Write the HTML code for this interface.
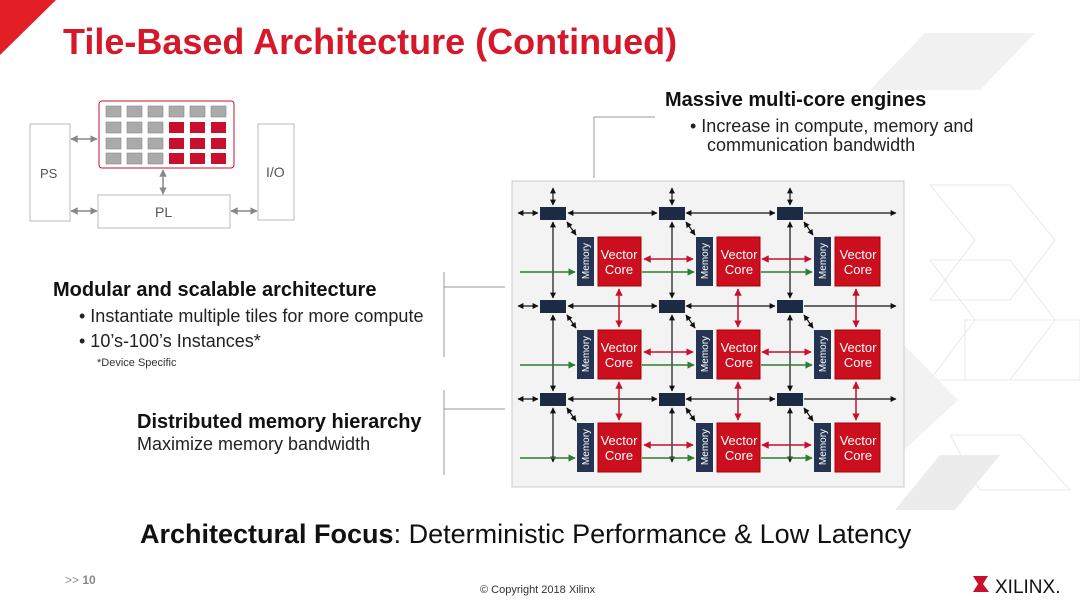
<!DOCTYPE html>
<html><head><meta charset="utf-8"><style>
html,body{margin:0;padding:0;background:#fff}
svg{display:block;font-family:"Liberation Sans",Arial,sans-serif}
</style></head><body>
<svg width="1080" height="608" viewBox="0 0 1080 608" xmlns="http://www.w3.org/2000/svg">
<defs>
<marker id="ab" viewBox="0 0 10 10" refX="9" refY="5" markerWidth="5" markerHeight="5" orient="auto-start-reverse"><path d="M0,0L10,5L0,10z" fill="#111"/></marker>
<marker id="ar" viewBox="0 0 10 10" refX="9" refY="5" markerWidth="5" markerHeight="5" orient="auto-start-reverse"><path d="M0,0L10,5L0,10z" fill="#c8102e"/></marker>
<marker id="ag" viewBox="0 0 10 10" refX="9" refY="5" markerWidth="5" markerHeight="5" orient="auto-start-reverse"><path d="M0,0L10,5L0,10z" fill="#2e7d32"/></marker>
<marker id="gy" viewBox="0 0 10 10" refX="9" refY="5" markerWidth="5" markerHeight="5" orient="auto-start-reverse"><path d="M0,0L10,5L0,10z" fill="#888"/></marker>
</defs>
<!-- background chevrons -->
<g fill="none" stroke="#e9e9e9" stroke-width="1">
<polygon points="925,33 1035,33 980,90 870,90" fill="#f1f1f1" stroke="none"/>
<polygon points="930,185 1010,185 1055,240 1010,300 930,300 975,240"/>
<polygon points="930,260 1010,260 1055,320 1010,380 930,380 975,320"/>
<polygon points="965,320 1080,320 1080,380 965,380"/>
<polygon points="950,435 1020,435 1070,490 980,490"/>
<polygon points="904,345 958,400 904,450" fill="#f2f2f2" stroke="none"/>
<polygon points="940,455 1000,455 955,510 895,510" fill="#ececec" stroke="none"/>
</g>
<polygon points="0,0 56,0 0,55" fill="#e41e26"/>
<text x="63" y="54" font-size="36" font-weight="bold" fill="#d7182a">Tile-Based Architecture (Continued)</text>

<!-- top-left diagram -->
<g stroke="#bbb" fill="#fff">
<rect x="30" y="124" width="40" height="97"/>
<rect x="258" y="124" width="36" height="96"/>
<rect x="98" y="195" width="132" height="33"/>
</g>
<rect x="99" y="101" width="135" height="67" fill="#fff" stroke="#c8102e" rx="3"/>
<g stroke="#888" stroke-width="0.6">
<rect x="106" y="106" width="15" height="11" fill="#aaa"/><rect x="127" y="106" width="15" height="11" fill="#aaa"/><rect x="148" y="106" width="15" height="11" fill="#aaa"/><rect x="169" y="106" width="15" height="11" fill="#aaa"/><rect x="190" y="106" width="15" height="11" fill="#aaa"/><rect x="211" y="106" width="15" height="11" fill="#aaa"/>
<rect x="106" y="122" width="15" height="11" fill="#aaa"/><rect x="127" y="122" width="15" height="11" fill="#aaa"/><rect x="148" y="122" width="15" height="11" fill="#aaa"/>
<rect x="106" y="138" width="15" height="11" fill="#aaa"/><rect x="127" y="138" width="15" height="11" fill="#aaa"/><rect x="148" y="138" width="15" height="11" fill="#aaa"/>
<rect x="106" y="153" width="15" height="11" fill="#aaa"/><rect x="127" y="153" width="15" height="11" fill="#aaa"/><rect x="148" y="153" width="15" height="11" fill="#aaa"/>
</g>
<g fill="#c8102e">
<rect x="169" y="122" width="15" height="11"/><rect x="190" y="122" width="15" height="11"/><rect x="211" y="122" width="15" height="11"/>
<rect x="169" y="138" width="15" height="11"/><rect x="190" y="138" width="15" height="11"/><rect x="211" y="138" width="15" height="11"/>
<rect x="169" y="153" width="15" height="11"/><rect x="190" y="153" width="15" height="11"/><rect x="211" y="153" width="15" height="11"/>
</g>
<g stroke="#888" stroke-width="1.5" marker-start="url(#gy)" marker-end="url(#gy)">
<line x1="71" y1="139" x2="97" y2="139"/>
<line x1="71" y1="211" x2="97" y2="211"/>
<line x1="231" y1="211" x2="257" y2="211"/>
<line x1="163" y1="170" x2="163" y2="194"/>
</g>
<text x="40" y="178" font-size="13" fill="#555">PS</text>
<text x="266" y="177" font-size="14" fill="#555">I/O</text>
<text x="155" y="217" font-size="14" fill="#555">PL</text>

<!-- text blocks -->
<g stroke="#999" fill="none">
<polyline points="655,117 594,117 594,178"/>
<line x1="444" y1="272" x2="444" y2="357"/><line x1="444" y1="287" x2="505" y2="287"/>
<line x1="444" y1="390" x2="444" y2="475"/><line x1="444" y1="409" x2="505" y2="409"/>
</g>
<text x="665" y="106" font-size="20" font-weight="bold" fill="#111">Massive multi-core engines</text>
<text x="690" y="132" font-size="18" fill="#222">• Increase in compute, memory and</text>
<text x="707" y="151" font-size="18" fill="#222">communication bandwidth</text>
<text x="53" y="296" font-size="20" font-weight="bold" fill="#111">Modular and scalable architecture</text>
<text x="79" y="322" font-size="18" fill="#222">• Instantiate multiple tiles for more compute</text>
<text x="79" y="347" font-size="18" fill="#222">• 10’s-100’s Instances*</text>
<text x="97" y="366" font-size="11" fill="#333">*Device Specific</text>
<text x="137" y="428" font-size="20" font-weight="bold" fill="#111">Distributed memory hierarchy</text>
<text x="137" y="450" font-size="18" fill="#222">Maximize memory bandwidth</text>

<!-- grid -->
<rect x="512" y="181" width="392" height="306" fill="#f3f3f3" stroke="#ccc"/>
<g stroke="#111" stroke-width="1.2" marker-start="url(#ab)" marker-end="url(#ab)">
<line x1="553" y1="188" x2="553" y2="205"/><line x1="553" y1="222" x2="553" y2="298"/><line x1="553" y1="315" x2="553" y2="391"/><line x1="553" y1="408" x2="553" y2="462"/>
<line x1="672" y1="188" x2="672" y2="205"/><line x1="672" y1="222" x2="672" y2="298"/><line x1="672" y1="315" x2="672" y2="391"/><line x1="672" y1="408" x2="672" y2="462"/>
<line x1="790" y1="188" x2="790" y2="205"/><line x1="790" y1="222" x2="790" y2="298"/><line x1="790" y1="315" x2="790" y2="391"/><line x1="790" y1="408" x2="790" y2="462"/>
<line x1="518" y1="213" x2="538" y2="213"/><line x1="568" y1="213" x2="657" y2="213"/><line x1="686" y1="213" x2="775" y2="213"/>
<line x1="518" y1="306" x2="538" y2="306"/><line x1="568" y1="306" x2="657" y2="306"/><line x1="686" y1="306" x2="775" y2="306"/>
<line x1="518" y1="399" x2="538" y2="399"/><line x1="568" y1="399" x2="657" y2="399"/><line x1="686" y1="399" x2="775" y2="399"/>
<line x1="567" y1="222" x2="576" y2="235"/><line x1="686" y1="222" x2="695" y2="235"/><line x1="804" y1="222" x2="813" y2="235"/>
<line x1="567" y1="315" x2="576" y2="328"/><line x1="686" y1="315" x2="695" y2="328"/><line x1="804" y1="315" x2="813" y2="328"/>
<line x1="567" y1="408" x2="576" y2="421"/><line x1="686" y1="408" x2="695" y2="421"/><line x1="804" y1="408" x2="813" y2="421"/>
</g>
<g stroke="#111" stroke-width="1.2" marker-end="url(#ab)">
<line x1="804" y1="213" x2="896" y2="213"/><line x1="804" y1="306" x2="896" y2="306"/><line x1="804" y1="399" x2="896" y2="399"/>
</g>
<g fill="#1c2a44">
<rect x="540" y="207" width="26" height="13"/><rect x="659" y="207" width="26" height="13"/><rect x="777" y="207" width="26" height="13"/>
<rect x="540" y="300" width="26" height="13"/><rect x="659" y="300" width="26" height="13"/><rect x="777" y="300" width="26" height="13"/>
<rect x="540" y="393" width="26" height="13"/><rect x="659" y="393" width="26" height="13"/><rect x="777" y="393" width="26" height="13"/>
</g>
<g stroke="#2e7d32" stroke-width="1.5" marker-end="url(#ag)">
<line x1="520" y1="272" x2="575" y2="272"/><line x1="642" y1="272" x2="694" y2="272"/><line x1="761" y1="272" x2="812" y2="272"/>
<line x1="520" y1="365" x2="575" y2="365"/><line x1="642" y1="365" x2="694" y2="365"/><line x1="761" y1="365" x2="812" y2="365"/>
<line x1="520" y1="458" x2="575" y2="458"/><line x1="642" y1="458" x2="694" y2="458"/><line x1="761" y1="458" x2="812" y2="458"/>
</g>
<g stroke="#c8102e" stroke-width="1.5" marker-start="url(#ar)" marker-end="url(#ar)">
<line x1="644" y1="259" x2="693" y2="259"/><line x1="762" y1="259" x2="811" y2="259"/>
<line x1="644" y1="352" x2="693" y2="352"/><line x1="762" y1="352" x2="811" y2="352"/>
<line x1="644" y1="445" x2="693" y2="445"/><line x1="762" y1="445" x2="811" y2="445"/>
<line x1="619" y1="289" x2="619" y2="327"/><line x1="738" y1="289" x2="738" y2="327"/><line x1="856" y1="289" x2="856" y2="327"/>
<line x1="619" y1="382" x2="619" y2="420"/><line x1="738" y1="382" x2="738" y2="420"/><line x1="856" y1="382" x2="856" y2="420"/>
</g>
<g fill="#253453">
<rect x="577" y="237" width="17" height="49"/><rect x="696" y="237" width="17" height="49"/><rect x="814" y="237" width="17" height="49"/>
<rect x="577" y="330" width="17" height="49"/><rect x="696" y="330" width="17" height="49"/><rect x="814" y="330" width="17" height="49"/>
<rect x="577" y="423" width="17" height="49"/><rect x="696" y="423" width="17" height="49"/><rect x="814" y="423" width="17" height="49"/>
</g>
<g fill="#cc0f1e" stroke="#a00">
<rect x="598" y="237" width="43" height="49"/><rect x="717" y="237" width="43" height="49"/><rect x="835" y="237" width="45" height="49"/>
<rect x="598" y="330" width="43" height="49"/><rect x="717" y="330" width="43" height="49"/><rect x="835" y="330" width="45" height="49"/>
<rect x="598" y="423" width="43" height="49"/><rect x="717" y="423" width="43" height="49"/><rect x="835" y="423" width="45" height="49"/>
</g>
<g fill="#fff" font-size="10" text-anchor="middle">
<text transform="translate(589,261) rotate(-90)">Memory</text><text transform="translate(708,261) rotate(-90)">Memory</text><text transform="translate(826,261) rotate(-90)">Memory</text>
<text transform="translate(589,354) rotate(-90)">Memory</text><text transform="translate(708,354) rotate(-90)">Memory</text><text transform="translate(826,354) rotate(-90)">Memory</text>
<text transform="translate(589,447) rotate(-90)">Memory</text><text transform="translate(708,447) rotate(-90)">Memory</text><text transform="translate(826,447) rotate(-90)">Memory</text>
</g>
<g fill="#fff" font-size="13" text-anchor="middle">
<text x="619" y="259">Vector</text><text x="619" y="274">Core</text><text x="739" y="259">Vector</text><text x="739" y="274">Core</text><text x="858" y="259">Vector</text><text x="858" y="274">Core</text>
<text x="619" y="352">Vector</text><text x="619" y="367">Core</text><text x="739" y="352">Vector</text><text x="739" y="367">Core</text><text x="858" y="352">Vector</text><text x="858" y="367">Core</text>
<text x="619" y="445">Vector</text><text x="619" y="460">Core</text><text x="739" y="445">Vector</text><text x="739" y="460">Core</text><text x="858" y="445">Vector</text><text x="858" y="460">Core</text>
</g>

<text x="140" y="543" font-size="27" fill="#111"><tspan font-weight="bold">Architectural Focus</tspan>: Deterministic Performance &amp; Low Latency</text>
<text x="65" y="584" font-size="12" fill="#888">&gt;&gt; <tspan font-weight="bold">10</tspan></text>
<text x="480" y="593" font-size="11" fill="#333">© Copyright 2018 Xilinx</text>
<polygon points="973,576 988,576 983,584 989,592 973,592 978,584" fill="#c8102e"/>
<text x="995" y="593" font-size="19" fill="#111">XILINX.</text>
</svg>
</body></html>
